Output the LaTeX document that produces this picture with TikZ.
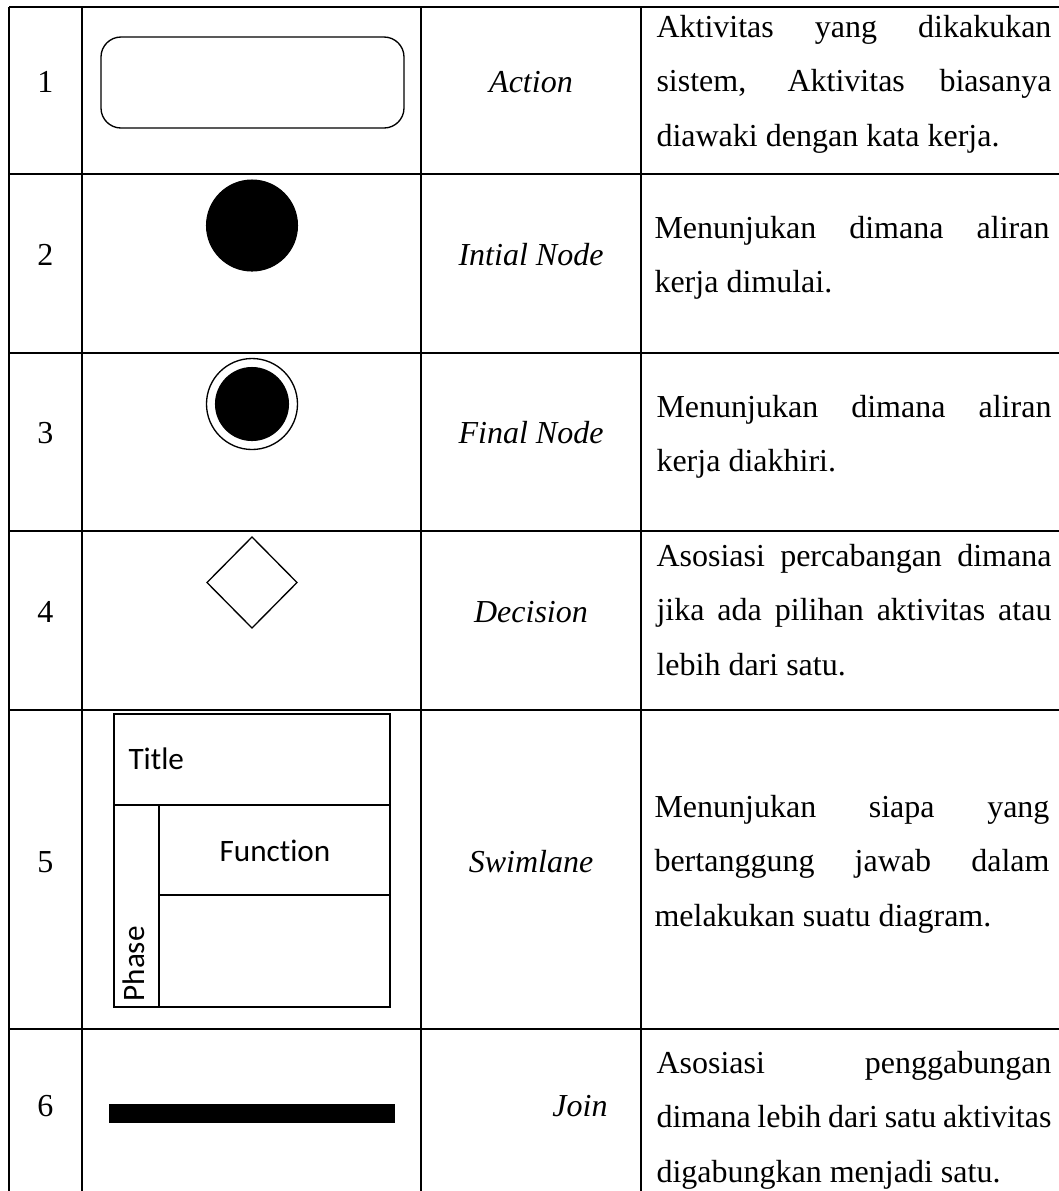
\documentclass[tikz,border=0pt]{standalone}
\usepackage{fontspec}
\setmainfont{Liberation Serif}
\newfontfamily\swimfont[Ligatures=NoCommon]{Carlito}
\usepackage{tikz}
\hbadness=10000
\tikzset{
	tablerule/.style={line width=0.75pt},
	symline/.style={line width=0.5pt},
	lane/.style={line width=0.7pt},
	num/.style={anchor=base, inner sep=0pt, font=\fontsize{12}{14}\selectfont},
	lbl/.style={anchor=base, inner sep=0pt, font=\fontsize{12}{14}\selectfont\itshape},
	desc/.style={anchor=base west, inner sep=0pt, text width=148.1pt, align=justify, font=\fontsize{12}{20.6}\selectfont},
	lanetext/.style={inner sep=0pt, font=\swimfont\fontsize{11.7}{13}\selectfont}
}

\begin{document}
\begin{tikzpicture}[x=0.375pt, y=-0.375pt]
			%%%%% START %%%%%
			\useasboundingbox (0, 0) rectangle (1059, 1191);
			
			\draw[tablerule] (9, 7) -- (1059, 7);
			\draw[tablerule] (9, 174) -- (1059, 174);
			\draw[tablerule] (9, 353) -- (1059, 353);
			\draw[tablerule] (9, 531) -- (1059, 531);
			\draw[tablerule] (9, 710) -- (1059, 710);
			\draw[tablerule] (9, 1029) -- (1059, 1029);
			
			\draw[tablerule] (9, 7) -- (9, 1191);
			\draw[tablerule] (82, 7) -- (82, 1191);
			\draw[tablerule] (421, 7) -- (421, 1191);
			\draw[tablerule] (641, 7) -- (641, 1191);
			
			\node[num] (n1) at (45.5, 92) {1};
			\node[num] (n2) at (45.5, 265) {2};
			\node[num] (n3) at (45.5, 443) {3};
			\node[num] (n4) at (45.5, 622) {4};
			\node[num] (n5) at (45.5, 872) {5};
			\node[num] (n6) at (45.5, 1116) {6};
			
			\draw[symline, rounded corners=7.5pt] (101, 37) rectangle (404, 128);
			
			\draw[fill=black] (252, 225.5) circle (45.5);
			
			\draw[symline] (252, 404) circle (45.5);
			\draw[fill=black] (252, 404) circle (36.5);
			
			\draw[symline] (252, 537) -- (297, 582.5) -- (252, 628) -- (207, 582.5) -- cycle;
			
			\draw[lane] (114, 714) rectangle (390, 1007);
			\draw[lane] (114, 805) -- (390, 805);
			\draw[lane] (159, 895) -- (390, 895);
			\draw[lane] (159, 805) -- (159, 1007);
			\node[lanetext, anchor=base west] (title) at (128, 769) {Title};
			\node[lanetext, anchor=base] (func) at (275, 861) {Funct\kern0pt ion};
			\node[lanetext, anchor=base west, rotate=90] (phase) at (144, 1002) {Phase};
			
			\draw[fill=black] (110, 1105) rectangle (394, 1122);
			
			\node[lbl] (action) at (531, 92) {Action};
			\node[lbl] (initial) at (531, 265) {Intial Node};
			\node[lbl] (final) at (531, 443) {Final Node};
			\node[lbl] (decision) at (531, 622) {Decision};
			\node[lbl] (swimlane) at (531, 872) {Swimlane};
			\node[lbl] (join) at (580, 1116) {Join};
			
			\node[desc] (d1) at (656, 37) {Aktivitas yang dikakukan\linebreak sistem, Aktivitas biasanya\linebreak diawaki dengan kata kerja.};
			\node[desc] (d2) at (654, 238) {Menunjukan dimana aliran\linebreak kerja dimulai.};
			\node[desc] (d3) at (656, 417) {Menunjukan dimana aliran\linebreak kerja diakhiri.};
			\node[desc] (d4) at (656, 566) {Asosiasi percabangan dimana\linebreak jika ada pilihan aktivitas atau\linebreak lebih dari satu.};
			\node[desc] (d5) at (654, 817) {Menunjukan siapa yang\linebreak bertanggung jawab dalam\linebreak melakukan suatu diagram.};
			\node[desc] (d6) at (656, 1073) {Asosiasi penggabungan\linebreak dimana lebih dari satu aktivitas\linebreak digabungkan menjadi satu.};
			
			%%%%% END %%%%%
\end{tikzpicture}
\end{document}
